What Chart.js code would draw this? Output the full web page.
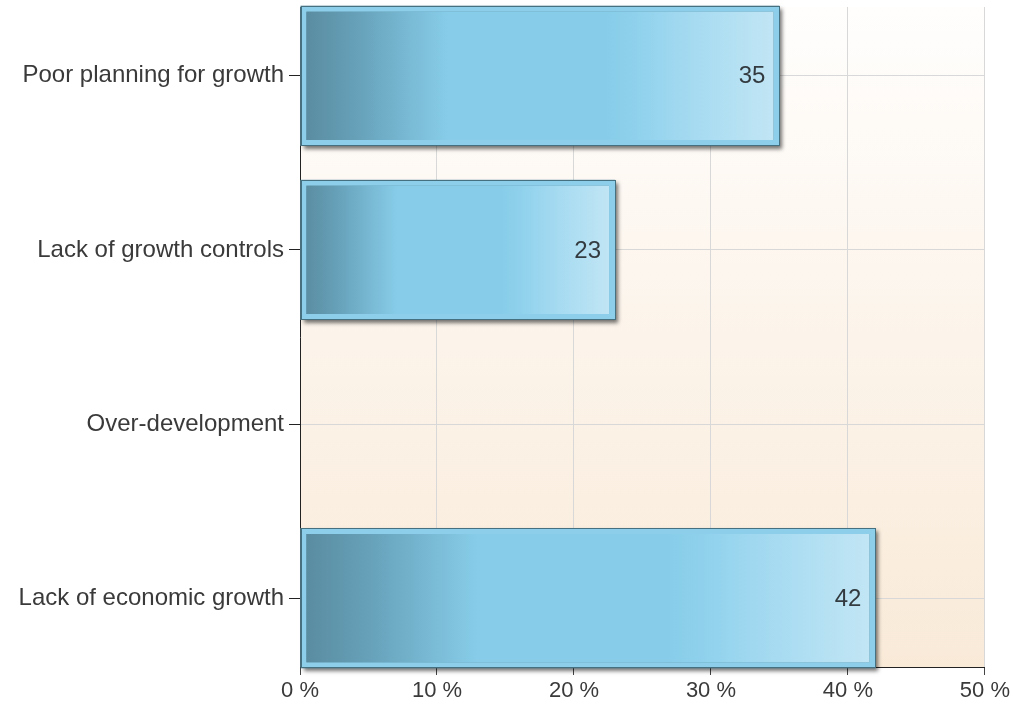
<!DOCTYPE html>
<html>
<head>
<meta charset="utf-8">
<script src="https://cdn.jsdelivr.net/npm/chart.js@4.4.1/dist/chart.umd.min.js"></script>
<style>
  html, body { margin: 0; padding: 0; background: #fff; }
</style>
</head>
<body>
<canvas id="chartCausas" width="1013" height="709"></canvas>
<script>
// datos
const categorias = ["Poor planning for growth", "Lack of growth controls", "Over-development", "Lack of economic growth"];
const valores = [35, 23, 0, 42];
const ticksX = [0, 10, 20, 30, 40, 50];

const fuente = "'Liberation Sans', Arial, sans-serif";

/* fondo degradado del area del grafico */
const fondoPlot = {
  id: "fondoPlot",
  beforeDraw(chart) {
    const { ctx, chartArea: a } = chart;
    const g = ctx.createLinearGradient(0, a.top, 0, a.bottom);
    g.addColorStop(0, "#fffefd");
    g.addColorStop(1, "#f9ead8");
    ctx.save();
    ctx.fillStyle = g;
    ctx.fillRect(a.left, a.top, a.right - a.left, a.bottom - a.top);
    ctx.restore();
  },
};

/* sombra, contorno y numeros de cada barra */
const decoracionBarras = {
  id: "decoracionBarras",
  beforeDatasetsDraw(chart) {
    const ctx = chart.ctx;
    chart.getDatasetMeta(0).data.forEach((bar, i) => {
      if (!valores[i]) return;
      const { x, y, base, height } = bar.getProps(["x", "y", "base", "height"], true);
      ctx.save();
      ctx.shadowColor = "rgba(0,0,0,0.55)";
      ctx.shadowBlur = 4;
      ctx.shadowOffsetX = 3;
      ctx.shadowOffsetY = 3;
      ctx.fillStyle = "#4f7f93";
      ctx.fillRect(base, y - height / 2, x - base, height);
      ctx.restore();
    });
  },
  afterDatasetsDraw(chart) {
    const ctx = chart.ctx;
    chart.getDatasetMeta(0).data.forEach((bar, i) => {
      if (!valores[i]) return;
      const { x, y, base, height } = bar.getProps(["x", "y", "base", "height"], true);
      ctx.save();
      ctx.strokeStyle = "#44707f";
      ctx.lineWidth = 1;
      ctx.strokeRect(Math.round(base) + 0.5, Math.round(y - height / 2) + 0.5,
        Math.round(x - base) - 1, Math.round(height) - 1);
      ctx.font = "24px " + fuente;
      ctx.fillStyle = "#333b40";
      ctx.textAlign = "right";
      ctx.textBaseline = "middle";
      ctx.fillText(String(valores[i]), x - 14, y + 1);
      ctx.restore();
    });
  },
};

const degradadoBarra = (c) => {
  const chart = c.chart;
  if (!chart.chartArea || c.type !== "data") return "#87cde9";
  const xs = chart.scales.x;
  const x0 = xs.getPixelForValue(0);
  const x1 = xs.getPixelForValue(valores[c.dataIndex]);
  if (x1 - x0 < 2) return "#87cde9";
  const g = chart.ctx.createLinearGradient(x0, 0, x1, 0);
  g.addColorStop(0, "#598a9e");
  g.addColorStop(0.12, "#66a1b9");
  g.addColorStop(0.22, "#78b8d2");
  g.addColorStop(0.31, "#87cde9");
  g.addColorStop(0.64, "#87cde9");
  g.addColorStop(0.7, "#8fd1ec");
  g.addColorStop(0.8, "#a2d9f0");
  g.addColorStop(0.9, "#b3e0f3");
  g.addColorStop(1, "#c3e6f4");
  return g;
};

const canvas = document.getElementById("chartCausas");
const context = canvas.getContext("2d");

const chartCausas = new Chart(context, {
  type: "bar",
  data: {
    datasets: [
      {
        label: "Causas",
        data: valores.map((v, i) => ({ x: v, y: i })),
        backgroundColor: degradadoBarra,
        borderColor: "#8dcfea",
        borderWidth: 6,
        borderSkipped: false,
        barPercentage: 0.805,
        categoryPercentage: 1,
      },
    ],
  },
  options: {
    indexAxis: "y",
    responsive: false,
    animation: false,
    devicePixelRatio: 1,
    layout: { padding: { top: 7, right: 28, left: 0, bottom: 0 } },
    plugins: {
      legend: { display: false },
      tooltip: { enabled: false },
    },
    scales: {
      x: {
        type: "linear",
        min: ticksX[0],
        max: ticksX[ticksX.length - 1],
        offset: false,
        afterBuildTicks: (scale) => {
          scale.ticks = ticksX.map((v) => ({ value: v }));
        },
        afterFit: (scale) => {
          scale.height = 42;
        },
        grid: { color: "#d8d8d8", tickColor: "#444", tickLength: 8, offset: false },
        border: { color: "#222", width: 1 },
        ticks: {
          color: "#3a3a3a",
          font: { family: fuente, size: 22 },
          padding: 3,
          maxRotation: 0,
          callback: (v) => v + " %",
        },
      },
      y: {
        type: "linear",
        reverse: true,
        min: -0.395,
        max: 3.395,
        offset: false,
        afterBuildTicks: (scale) => {
          scale.ticks = categorias.map((_, i) => ({ value: i }));
        },
        afterFit: (scale) => {
          scale.width = 300;
          scale.paddingTop = 0;
          scale.paddingBottom = 0;
        },
        grid: { color: "#d8d8d8", tickColor: "#222", tickLength: 11, offset: false },
        border: { color: "#222", width: 1 },
        ticks: {
          color: "#3a3a3a",
          font: { family: fuente, size: 24 },
          padding: 5,
          autoSkip: false,
          callback: (v) => categorias[v],
        },
      },
    },
  },
  plugins: [fondoPlot, decoracionBarras],
});
</script>
</body>
</html>
